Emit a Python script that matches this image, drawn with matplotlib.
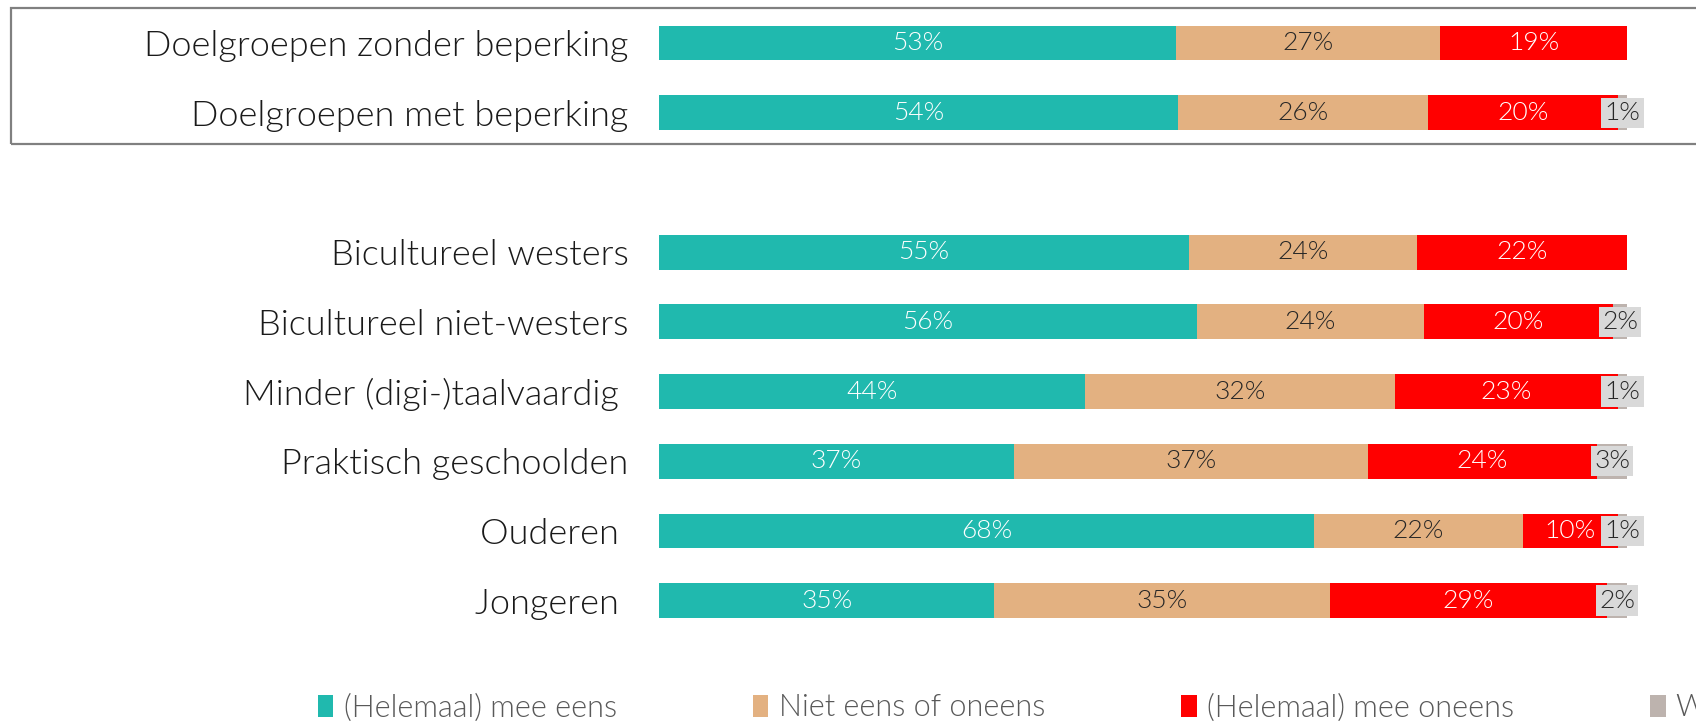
import matplotlib
matplotlib.use('Agg')
from matplotlib import pyplot as plt
from matplotlib.patches import Patch, Rectangle
import numpy as np

# categorieen (van boven naar onder), '' = lege rij tussen de groepen
categorieen = ['Doelgroepen zonder beperking', 'Doelgroepen met beperking', '',
               'Bicultureel westers', 'Bicultureel niet-westers',
               'Minder (digi-)taalvaardig ', 'Praktisch geschoolden',
               'Ouderen ', 'Jongeren ']

mee_eens = [53.4, 53.6, 0, 54.7, 55.5, 44.0, 36.6, 67.6, 34.6]
neutraal = [27.3, 25.8, 0, 23.6, 23.5, 32.0, 36.6, 21.6, 34.7]
oneens = [19.3, 19.6, 0, 21.7, 19.5, 23.0, 23.7, 9.8, 28.6]
weet_niet = [0, 1.0, 0, 0, 1.5, 1.0, 3.1, 1.0, 2.1]

reeksen = ['(Helemaal) mee eens', 'Niet eens of oneens', '(Helemaal) mee oneens', 'Weet niet']
kleuren = ['#20B9AE', '#E3B181', '#FF0000', '#BDB3AE']

plt.rcParams['font.family'] = ['Lato', 'DejaVu Sans']
gewicht = 300  # Lato Light

fig = plt.figure(figsize=(16.96, 7.21), dpi=100)
ax = fig.add_axes([659.3/1696, 1 - 635.5/721, 968/1696, (635.5 - 8.15)/721])

y = np.arange(len(categorieen))
data = [mee_eens, neutraal, oneens, weet_niet]
links = np.zeros(len(categorieen))
for i, (waarden, kleur) in enumerate(zip(data, kleuren)):
    waarden = np.array(waarden)
    ax.barh(y, waarden, left=links, height=0.5, color=kleur, linewidth=0)
    for j, v in enumerate(waarden):
        if v <= 0:
            continue
        xc = links[j] + v / 2
        if i == 3:
            ax.text(xc, y[j], f'{v:.0f}%', ha='center', va='center', fontsize=19,
                    color='#262626', fontweight=gewicht,
                    bbox=dict(boxstyle='square,pad=0.12', fc='#D9D9D9', ec='none'))
        else:
            kl = 'white' if i in (0, 2) else '#262626'
            ax.text(xc, y[j], f'{v:.0f}%', ha='center', va='center', fontsize=19,
                    color=kl, fontweight=gewicht)
    links = links + waarden

ax.set_xlim(0, 100)
ax.set_ylim(8.5, -0.5)
ax.set_yticks(y)
ax.set_yticklabels(categorieen, fontsize=26, color='#1a1a1a', fontweight=gewicht)
ax.tick_params(axis='y', length=0, pad=22)
ax.set_xticks([])
for s in ax.spines.values():
    s.set_visible(False)

# kader rond de bovenste groep
fig.patches.append(Rectangle((11/1696, 1 - 144/721), 1.1, (144 - 8)/721,
                             transform=fig.transFigure, fill=False,
                             edgecolor='#808080', linewidth=1.6))

handles = [Patch(facecolor=k, edgecolor='none') for k in kleuren]
fig.legend(handles, reeksen, loc='center left', bbox_to_anchor=(318/1696, 1 - 708/721),
           ncol=4, frameon=False, handlelength=0.5, handleheight=0.7,
           handletextpad=0.35, columnspacing=4.45, borderpad=0, borderaxespad=0,
           labelcolor='#595959', prop={'size': 22, 'weight': gewicht})

fig.savefig('out.png', dpi=100)
